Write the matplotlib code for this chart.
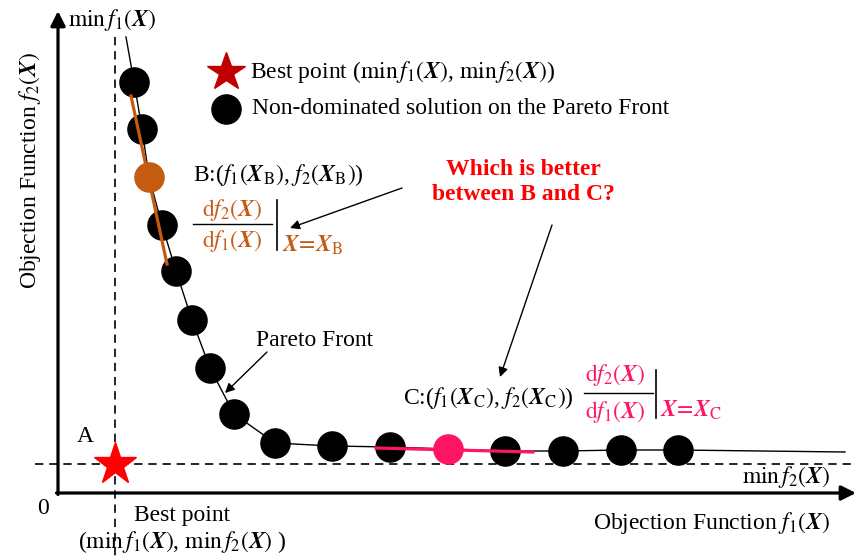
import matplotlib
matplotlib.use("Agg")
import matplotlib.pyplot as plt
import numpy as np

plt.rcParams['font.family'] = ['Liberation Serif', 'DejaVu Serif']
plt.rcParams['mathtext.fontset'] = 'stix'

# Pareto front points (f1, f2) in plot units
f1_front = [76, 84, 91, 104, 118, 134, 152, 176, 217, 274, 332, 390, 447, 505, 563, 620]
f2_front = [411, 364, 316, 268, 222, 173, 125, 79, 50, 47, 46, 44, 42, 42, 43, 43]
idx_B = 2
idx_C = 11
# front curve extends beyond the points
curve_f1 = [68] + f1_front + [787]
curve_f2 = [456] + f2_front + [41]
# tangent segments at B and C
tanB_f1 = [73, 109]
tanB_f2 = [397, 229]
tanC_f1 = [318, 475]
tanC_f2 = [45, 41]
# best point (min f1, min f2)
best_f1 = 57
best_f2 = 29

BLACK = 'black'
ORANGE = '#C55A11'
PINK = '#FF1466'

fig = plt.figure(figsize=(8.56, 5.57), dpi=100)
ax = fig.add_axes([0, 0, 1, 1])
ax.set_xlim(-58, 798)
ax.set_ylim(-64, 493)
ax.axis('off')

FS = 17
X = r'\mathbfit{X}'

# axes with arrows
ax.annotate('', xy=(0, 482), xytext=(0, -1.5),
            arrowprops=dict(arrowstyle='-|>', lw=2.3, color=BLACK, mutation_scale=22, shrinkA=0, shrinkB=0))
ax.annotate('', xy=(798, 0), xytext=(-1.5, 0),
            arrowprops=dict(arrowstyle='-|>', lw=2.3, color=BLACK, mutation_scale=22, shrinkA=0, shrinkB=0))

# dashed min lines
ax.plot([best_f1, best_f1], [456, -64], ls=(0, (5, 3.5)), lw=1.2, color=BLACK)
ax.plot([-23, 797], [best_f2, best_f2], ls=(0, (5, 3.5)), lw=1.2, color=BLACK)

# front curve and points
ax.plot(curve_f1, curve_f2, color=BLACK, lw=1.0, zorder=2, solid_joinstyle='round')
others = [i for i in range(len(f1_front)) if i not in (idx_B, idx_C)]
ax.plot([f1_front[i] for i in others], [f2_front[i] for i in others], 'o',
        color=BLACK, ms=21, zorder=3)
ax.plot(f1_front[idx_B], f2_front[idx_B], 'o', color=ORANGE, ms=21, zorder=3)
ax.plot(f1_front[idx_C], f2_front[idx_C], 'o', color=PINK, ms=21, zorder=3)
ax.plot(tanB_f1, tanB_f2, color=ORANGE, lw=2.3, zorder=4)
ax.plot(tanC_f1, tanC_f2, color=PINK, lw=2.3, zorder=4)

# best point star
ax.plot(best_f1, best_f2, '*', color='#FF0000', ms=32, mec='#FF0000', zorder=5)

# legend
ax.plot(168, 421, '*', color='#C00000', ms=29, zorder=5)
ax.text(192, 421, r'Best point ($\min\,f_1(%s)$, $\min\,f_2(%s)$)' % (X, X), fontsize=FS, va='center')
ax.plot(168, 384, 'o', color=BLACK, ms=21)
ax.text(194, 384, 'Non-dominated solution on the Pareto Front', fontsize=FS, va='center')

# axis texts
ax.text(54, 473, r'$\min\,f_1(%s)$' % X, fontsize=FS, ha='center', va='center')
ax.text(-28, 323, r'Objection Function $f_2(%s)$' % X, fontsize=FS, ha='center', va='center', rotation=90)
ax.text(772, 16, r'$\min\,f_2(%s)$' % X, fontsize=FS, ha='right', va='center')
ax.text(772, -30, r'Objection Function $f_1(%s)$' % X, fontsize=FS, ha='right', va='center')
ax.text(-15, -15, '0', fontsize=FS, ha='center', va='center')
ax.text(27, 56, 'A', fontsize=FS, ha='center', va='center')
ax.text(124, -22, 'Best point', fontsize=FS, ha='center', va='center')
ax.text(124, -49, r'($\min\,f_1(%s)$, $\min\,f_2(%s)$ )' % (X, X), fontsize=FS, ha='center', va='center')

# point B annotation
ax.text(135, 318, r'B:($f_1(%s_{\mathrm{B}})$, $f_2(%s_{\mathrm{B}})$)' % (X, X), fontsize=FS, va='center')
ax.text(174, 283, r'$\mathrm{d}f_2(%s)$' % X, fontsize=FS, color=ORANGE, ha='center', va='center')
ax.plot([135, 214], [269, 269], color=BLACK, lw=1.0)
ax.text(174, 252, r'$\mathrm{d}f_1(%s)$' % X, fontsize=FS, color=ORANGE, ha='center', va='center')
ax.plot([219, 219], [293, 243], color=BLACK, lw=1.2)
ax.text(224, 248, r'$%s\!=\!%s_{\mathrm{B}}$' % (X, X), fontsize=FS, color=ORANGE, va='center')

# point C annotation
ax.text(345, 95, r'C:($f_1(%s_{\mathrm{C}})$, $f_2(%s_{\mathrm{C}})$)' % (X, X), fontsize=FS, va='center')
ax.text(557, 118, r'$\mathrm{d}f_2(%s)$' % X, fontsize=FS, color=PINK, ha='center', va='center')
ax.plot([526, 595], [100, 100], color=BLACK, lw=1.0)
ax.text(557, 81, r'$\mathrm{d}f_1(%s)$' % X, fontsize=FS, color=PINK, ha='center', va='center')
ax.plot([598, 598], [123, 75], color=BLACK, lw=1.2)
ax.text(602, 83, r'$%s\!=\!%s_{\mathrm{C}}$' % (X, X), fontsize=FS, color=PINK, va='center')

# question
ax.text(465, 311, 'Which is better\nbetween B and C?', fontsize=FS, color='#FF0000',
        fontweight='bold', ha='center', va='center', linespacing=1.3)

arrow = dict(arrowstyle='-|>', lw=1.0, color=BLACK, mutation_scale=14, shrinkA=0, shrinkB=0)
ax.annotate('', xy=(232, 265), xytext=(344, 305), arrowprops=arrow)
ax.annotate('', xy=(442, 116), xytext=(494, 268), arrowprops=arrow)

# Pareto front label
ax.text(198, 153, 'Pareto Front', fontsize=FS, va='center')
ax.annotate('', xy=(167, 100), xytext=(209, 141), arrowprops=arrow)

fig.savefig('out.png', dpi=100)
